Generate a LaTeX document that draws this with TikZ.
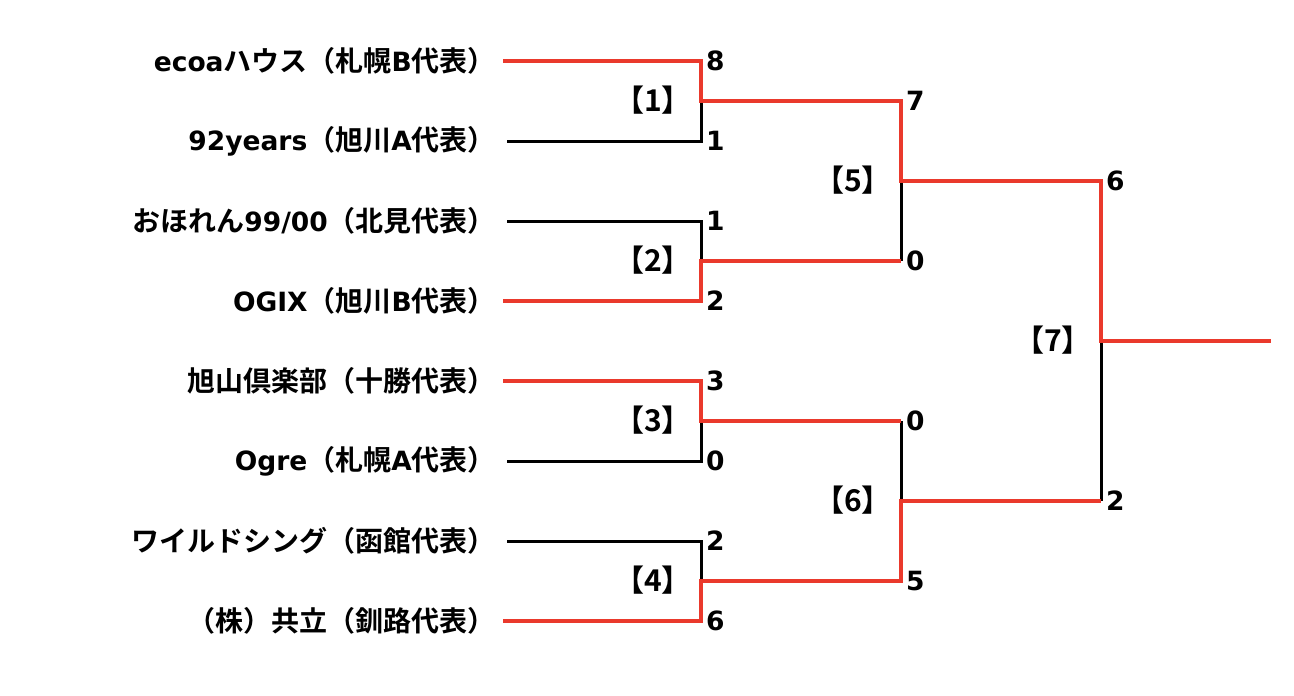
\documentclass[tikz,border=0pt]{standalone}
\usepackage{fontspec}
\setmainfont{Noto Sans CJK JP}[BoldFont=* Bold]
\newfontfamily\latfont{DejaVu Sans}[BoldFont=* Bold]
\newcommand\LT[1]{{\latfont\fontsize{26.5}{32}\selectfont #1}}
\definecolor{winred}{RGB}{234,57,44}
\begin{document}
\begin{tikzpicture}[x=1pt,y=-1pt,
  team/.style={anchor=east,inner sep=0pt,font=\fontsize{28}{32}\selectfont\bfseries},
  score/.style={anchor=west,inner sep=0pt,font=\latfont\fontsize{26.5}{32}\selectfont\bfseries},
  gamelbl/.style={anchor=center,inner sep=0pt,font=\fontsize{30}{34}\selectfont\bfseries},
  win/.style={draw=winred,line width=4.5pt},
  lose/.style={draw=black,line width=3pt}]
\useasboundingbox (0,0) rectangle (1294,696);
% team names
\node[team] (t1) at (496,61) {\LT{ecoa}ハウス（札幌\LT{B}代表）};
\node[team] (t2) at (496,141) {\LT{92years}（旭川\LT{A}代表）};
\node[team] (t3) at (496,221) {おほれん\LT{99/00}（北見代表）};
\node[team] (t4) at (496,301) {\LT{OGIX}（旭川\LT{B}代表）};
\node[team] (t5) at (496,381) {旭山倶楽部（十勝代表）};
\node[team] (t6) at (496,461) {\LT{Ogre}（札幌\LT{A}代表）};
\node[team] (t7) at (496,541) {ワイルドシング（函館代表）};
\node[team] (t8) at (496,621) {（株）共立（釧路代表）};
% line start coordinates
\coordinate (s1) at (503,61);  \coordinate (e1) at (701,61);
\coordinate (s2) at (507,141); \coordinate (e2) at (701,141);
\coordinate (s3) at (507,221); \coordinate (e3) at (701,221);
\coordinate (s4) at (503,301); \coordinate (e4) at (701,301);
\coordinate (s5) at (503,381); \coordinate (e5) at (701,381);
\coordinate (s6) at (507,461); \coordinate (e6) at (701,461);
\coordinate (s7) at (507,541); \coordinate (e7) at (701,541);
\coordinate (s8) at (503,621); \coordinate (e8) at (701,621);
% round 1 junctions
\coordinate (m1) at (701,101); \coordinate (n1) at (901,101);
\coordinate (m2) at (701,261); \coordinate (n2) at (901,261);
\coordinate (m3) at (701,421); \coordinate (n3) at (901,421);
\coordinate (m4) at (701,581); \coordinate (n4) at (901,581);
% round 2 junctions
\coordinate (m5) at (901,181); \coordinate (n5) at (1101,181);
\coordinate (m6) at (901,501); \coordinate (n6) at (1101,501);
% final
\coordinate (m7) at (1101,341); \coordinate (fin) at (1271,341);
% losing lines (black)
\draw[lose] (s2) -- (e2) -- (m1);
\draw[lose] (s3) -- (e3) -- (m2);
\draw[lose] (s6) -- (e6) -- (m3);
\draw[lose] (s7) -- (e7) -- (m4);
\draw[lose] (m5) -- (n2);
\draw[lose] (n3) -- (m6);
\draw[lose] (m7) -- (n6);
% winning lines (red)
\draw[win] (s1) -- (e1) -- (m1) -- (n1) -- (m5) -- (n5) -- (m7) -- (fin);
\draw[win] (s4) -- (e4) -- (m2) -- (n2);
\draw[win] (s5) -- (e5) -- (m3) -- (n3);
\draw[win] (s8) -- (e8) -- (m4) -- (n4) -- (m6) -- (n6);
% scores
\node[score] (c1) at (706,61) {8};
\node[score] (c2) at (706,141) {1};
\node[score] (c3) at (706,221) {1};
\node[score] (c4) at (706,301) {2};
\node[score] (c5) at (706,381) {3};
\node[score] (c6) at (706,461) {0};
\node[score] (c7) at (706,541) {2};
\node[score] (c8) at (706,621) {6};
\node[score] (d1) at (906,101) {7};
\node[score] (d2) at (906,261) {0};
\node[score] (d3) at (906,421) {0};
\node[score] (d4) at (906,581) {5};
\node[score] (f1) at (1106,181) {6};
\node[score] (f2) at (1106,501) {2};
% game labels
\node[gamelbl] (g1) at (653,100) {【1】};
\node[gamelbl] (g2) at (653,260) {【2】};
\node[gamelbl] (g3) at (653,420) {【3】};
\node[gamelbl] (g4) at (653,580) {【4】};
\node[gamelbl] (g5) at (853,180) {【5】};
\node[gamelbl] (g6) at (853,500) {【6】};
\node[gamelbl] (g7) at (1053,340) {【7】};
\end{tikzpicture}
\end{document}
